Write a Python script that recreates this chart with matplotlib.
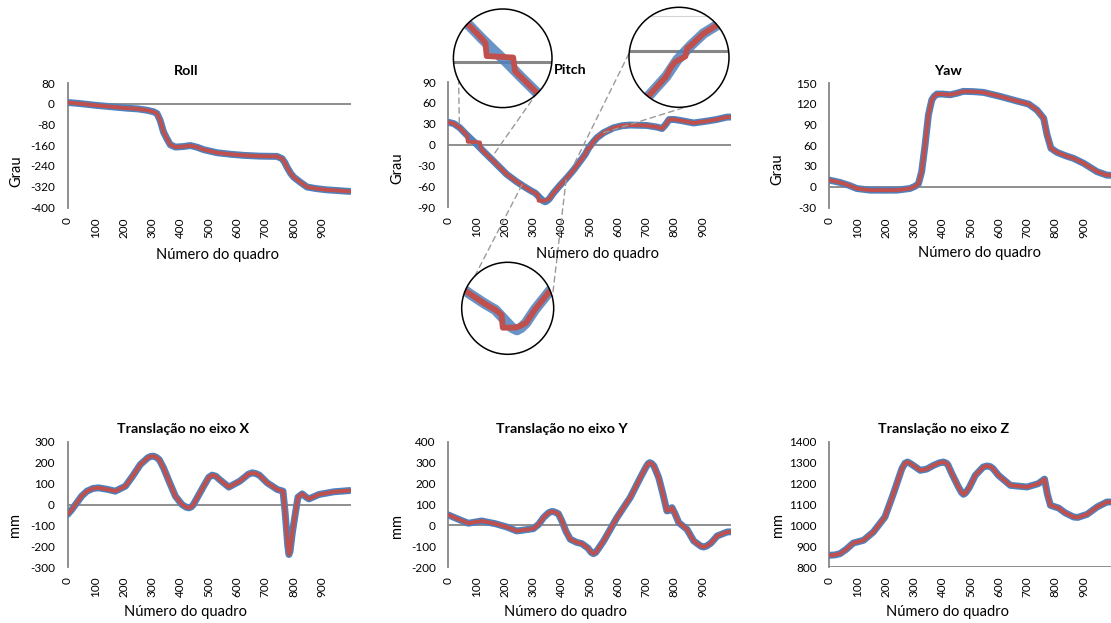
import matplotlib
matplotlib.use("Agg")
import matplotlib.pyplot as plt
from matplotlib.patches import Circle, ConnectionPatch
import numpy as np

# --- Tamanho da figura em pixels ---
W, H = 1111, 623

BLUE = "#4F81BD"
RED = "#C0504D"
AXIS_GRAY = "#868686"
DASH_GRAY = "#9a9a9a"

plt.rcParams.update({
    "font.family": ["Lato", "DejaVu Sans"],
    "font.size": 8.5,
    "axes.unicode_minus": False,
})

# --- Dados ---
XTICKS = list(range(0, 1000, 100))

roll_f = [0, 50, 100, 150, 210, 250, 281, 305, 317, 328, 340, 352, 364, 382, 410,
          435, 460, 482, 530, 580, 624, 680, 742, 760, 770, 777, 790, 801, 825,
          848, 880, 919, 960, 999]
roll_ref = [5, 0, -6, -11, -17, -20, -25, -31, -38, -64, -109, -135, -158, -167, -165,
            -161, -168, -177, -189, -195, -199, -202, -203, -212, -228, -244, -268,
            -283, -303, -321, -327, -332, -335, -338]

pitch_f = [0, 20, 41, 60, 80, 101, 124, 160, 207, 240, 266, 290, 308, 325, 335, 343,
           350, 358, 372, 395, 420, 445, 467, 485, 497, 512, 526, 550, 585, 615, 644,
           703, 740, 757, 768, 782, 800, 822, 869, 916, 950, 987, 999]
pitch_ref = [32, 30, 24, 16, 8, 0, -9.6, -24, -43, -53, -60, -66, -70, -77, -81, -82.5,
             -81, -78, -70, -59, -48, -36, -24, -14, -5, 3, 9.6, 17, 24, 27, 28,
             27.4, 25, 23, 28, 36, 36, 34.6, 31, 33.7, 36, 39.5, 39.5]
pitch_est_f = [0, 20, 41, 60, 67, 69, 112, 115, 124, 160, 207, 240, 266, 290, 308, 318,
               320, 340, 348, 358, 372, 395, 420, 445, 467, 485, 490, 495, 506, 508,
               512, 526, 550, 585, 615, 644, 703, 740, 757, 768, 782, 800, 822, 869,
               916, 950, 987, 999]
pitch_est = [32, 30, 24, 16, 12.5, 4, 3, -6, -9.6, -24, -43, -53, -60, -66, -70, -73,
             -81, -81, -80, -78, -70, -59, -48, -36, -24, -14, -9, -6, -3, 1.5,
             3, 9.6, 17, 24, 27, 28, 27.4, 25, 23, 28, 36, 36, 34.6, 31,
             33.7, 36, 39.5, 39.5]

yaw_f = [0, 38, 70, 97, 144, 190, 239, 286, 305, 316, 327, 339, 351, 363, 372, 381,
         400, 428, 450, 475, 510, 546, 605, 664, 706, 735, 759, 771, 785, 806, 835,
         865, 901, 948, 983, 999]
yaw_ref = [9.6, 6.2, 2, -2.5, -4.9, -5, -4.9, -2.5, 1, 4.8, 21.8, 60, 104, 125.7, 131,
           134, 134, 133, 135, 137.9, 137.5, 136.4, 130.6, 124, 119.5, 111, 99, 75,
           55.6, 49.8, 45, 41, 33.8, 21.8, 16.8, 16.5]

tx_f = [0, 15, 33, 50, 69, 90, 110, 140, 169, 205, 230, 258, 285, 295, 305, 315, 325,
        340, 360, 382, 405, 420, 429, 438, 445, 459, 485, 500, 512, 525, 540, 571,
        610, 640, 654, 668, 680, 707, 743, 763, 770, 775, 780, 784, 788, 796, 808,
        816, 831, 845, 855, 890, 943, 999]
tx_ref = [-48, -25, 8, 40, 64, 77, 80, 73, 64, 88, 135, 192, 225, 231, 232, 226, 215,
          176, 110, 40, 0, -13, -16, -12, -2, 32, 95, 130, 141, 136, 118, 83.5,
          112, 145, 152, 148, 140, 104, 72, 64, -30, -115, -200, -240, -225, -136, -32,
          35, 51, 35, 27, 48, 61, 67]

ty_f = [0, 36, 71, 118, 166, 207, 242, 270, 301, 320, 337, 355, 365, 372, 380, 390,
        402, 417, 432, 455, 473, 495, 506, 514, 522, 530, 550, 597, 644, 680, 700,
        707, 713, 720, 728, 745, 760, 774, 783, 792, 803, 816, 845, 869, 895, 904,
        915, 930, 952, 987, 999]
ty_ref = [50, 29, 10, 21, 8, -8, -27, -22, -16, 5, 37, 60, 66, 66, 62, 55, 21, -30,
          -67, -82, -88, -110, -130, -136, -130, -115, -75, 37, 133, 229, 280, 295,
          301, 297, 285, 229, 150, 69, 72, 85, 55, 13, -19, -75, -101, -104, -99, -85,
          -51, -32, -31]

tz_f = [0, 20, 38, 60, 85, 121, 156, 197, 227, 257, 268, 277, 288, 300, 322, 345, 369,
        390, 404, 415, 420, 434, 455, 468, 475, 482, 495, 517, 545, 558, 570, 580, 599,
        641, 700, 740, 762, 772, 783, 812, 835, 865, 880, 913, 948, 983, 999]
tz_ref = [856, 858, 864, 885, 915, 928, 968, 1040, 1152, 1272, 1298, 1304, 1296, 1285,
          1264, 1270, 1288, 1300, 1304, 1298, 1290, 1248, 1190, 1158, 1149, 1155, 1180,
          1240, 1280, 1285, 1282, 1272, 1240, 1192, 1184, 1200, 1222, 1150, 1096, 1083,
          1060, 1040, 1038, 1053, 1088, 1112, 1112]


def px_box(left, top, width, height):
    """Converte caixa em pixels (origem no topo) para fração da figura."""
    return [left / W, 1 - (top + height) / H, width / W, height / H]


fig = plt.figure(figsize=(W / 100, H / 100), dpi=100)

PANELS = [
    # (caixa px, quadros, ref, est_f, est, yticks, ylabel, título, pos título,
    #  pos xlabel, linha base, pos ylabel)
    ((67.5, 83, 283, 124.5), roll_f, roll_ref, roll_f, roll_ref,
     list(range(-400, 81, 80)), "Grau", "Roll", (186, 71), (217, 255), 0, (16, 171)),
    ((448.3, 82, 283, 125), pitch_f, pitch_ref, pitch_est_f, pitch_est,
     list(range(-90, 91, 30)), "Grau", "Pitch", (570, 70), (598, 254), 0, (397, 168)),
    ((829.3, 83, 283, 124.5), yaw_f, yaw_ref, yaw_f, yaw_ref,
     list(range(-30, 151, 30)), "Grau", "Yaw", (948, 71), (979, 253), 0, (777, 169)),
    ((67.5, 442, 283, 125), tx_f, tx_ref, tx_f, tx_ref,
     list(range(-300, 301, 100)), "mm", "Translação no eixo X", (183, 429), (185, 612),
     0, (15, 525)),
    ((448.3, 442, 283, 125), ty_f, ty_ref, ty_f, ty_ref,
     list(range(-200, 401, 100)), "mm", "Translação no eixo Y", (562, 429), (566, 612),
     0, (397, 526)),
    ((829.3, 442, 283, 125), tz_f, tz_ref, tz_f, tz_ref,
     list(range(800, 1401, 100)), "mm", "Translação no eixo Z", (944, 429), (947, 612),
     800, (778, 525)),
]

axes = []
for box, f, ref, ef, est, yt, ylab, title, tpos, xlpos, base, ylpos in PANELS:
    ax = fig.add_axes(px_box(*box))
    ax.plot(f, ref, color=BLUE, lw=5.0, solid_joinstyle="round",
            solid_capstyle="round", zorder=3)
    ax.plot(ef, est, color=RED, lw=2.8, solid_joinstyle="round",
            solid_capstyle="round", zorder=4)
    ax.axhline(base, color=AXIS_GRAY, lw=1.3, zorder=2)
    ax.set_xlim(0, 1002)
    ax.set_ylim(yt[0], yt[-1])
    ax.set_yticks(yt)
    ax.set_xticks(XTICKS)
    ax.set_xticklabels([str(t) for t in XTICKS], rotation=90)
    ax.tick_params(axis="both", length=0)
    ax.tick_params(axis="y", pad=9)
    ax.tick_params(axis="x", pad=7)
    for s in ("top", "right", "bottom"):
        ax.spines[s].set_visible(False)
    ax.spines["left"].set_color(AXIS_GRAY)
    ax.spines["left"].set_linewidth(1.3)
    ax.patch.set_alpha(0)
    bx, by, bw, bh = box
    ax.set_ylabel(ylab, fontsize=10.5, va="center")
    ax.yaxis.set_label_coords((ylpos[0] - bx) / bw, (by + bh - ylpos[1]) / bh)
    fig.text(tpos[0] / W, 1 - tpos[1] / H, title, ha="center", va="center",
             fontsize=10.3, fontweight="bold")
    fig.text(xlpos[0] / W, 1 - xlpos[1] / H, "Número do quadro", ha="center",
             va="center", fontsize=10.5)
    axes.append(ax)

ax_pitch = axes[1]

# --- Lupas (círculos de ampliação) sobre o gráfico de Pitch ---
ZOOMS = [
    # centro px, raio px, xlim, ylim, conectores [(ponto no gráfico), ângulo no círculo]
    ((502.7, 58.3), 49.3, (15, 175), (-30, 35),
     [((39, 31), 206.6), ((165, -12), -48.5)], False),
    ((679.0, 57.3), 50.0, (444, 554), (-31, 24),
     [((447, -27), 175.0), ((550, 17), -81.0)], True),
    ((507.7, 308.3), 46.0, (253, 403), (-97.5, -40.5),
     [((261, -58), 135.8), ((417, -51), 13.8)], False),
]

for (cx, cy), r, xl, yl, conns, faint in ZOOMS:
    iax = fig.add_axes(px_box(cx - r, cy - r, 2 * r, 2 * r), zorder=5)
    iax.set_xlim(xl)
    iax.set_ylim(yl)
    iax.axis("off")
    iax.patch.set_visible(False)
    bg = Circle((0.5, 0.5), 0.5, transform=iax.transAxes, facecolor="white",
                edgecolor="none", zorder=0)
    iax.add_patch(bg)
    arts = [iax.axhline(0, color=AXIS_GRAY, lw=2.2, zorder=1)]
    if faint:
        arts += iax.plot([0, 1], [0.913, 0.913], transform=iax.transAxes,
                         color="#d4d4d4", lw=0.8, zorder=1)
    arts += iax.plot(pitch_f, pitch_ref, color=BLUE, lw=7.5, alpha=0.85,
                     solid_joinstyle="round", zorder=2)
    arts += iax.plot(pitch_est_f, pitch_est, color=RED, lw=4.2,
                     solid_joinstyle="round", zorder=3)
    for a in arts:
        a.set_clip_path(bg)
    iax.add_patch(Circle((0.5, 0.5), 0.5, transform=iax.transAxes, fill=False,
                         edgecolor="black", lw=1.1, zorder=10, clip_on=False))
    for (fx, fv), ang in conns:
        t = np.deg2rad(ang)
        cp = ConnectionPatch(xyA=(fx, fv), coordsA=ax_pitch.transData,
                             xyB=(0.5 + 0.5 * np.cos(t), 0.5 + 0.5 * np.sin(t)),
                             coordsB=iax.transAxes, color=DASH_GRAY, lw=1.0,
                             linestyle=(0, (4, 3)))
        cp.set_zorder(3)
        fig.add_artist(cp)

fig.savefig("out.png", dpi=100)
